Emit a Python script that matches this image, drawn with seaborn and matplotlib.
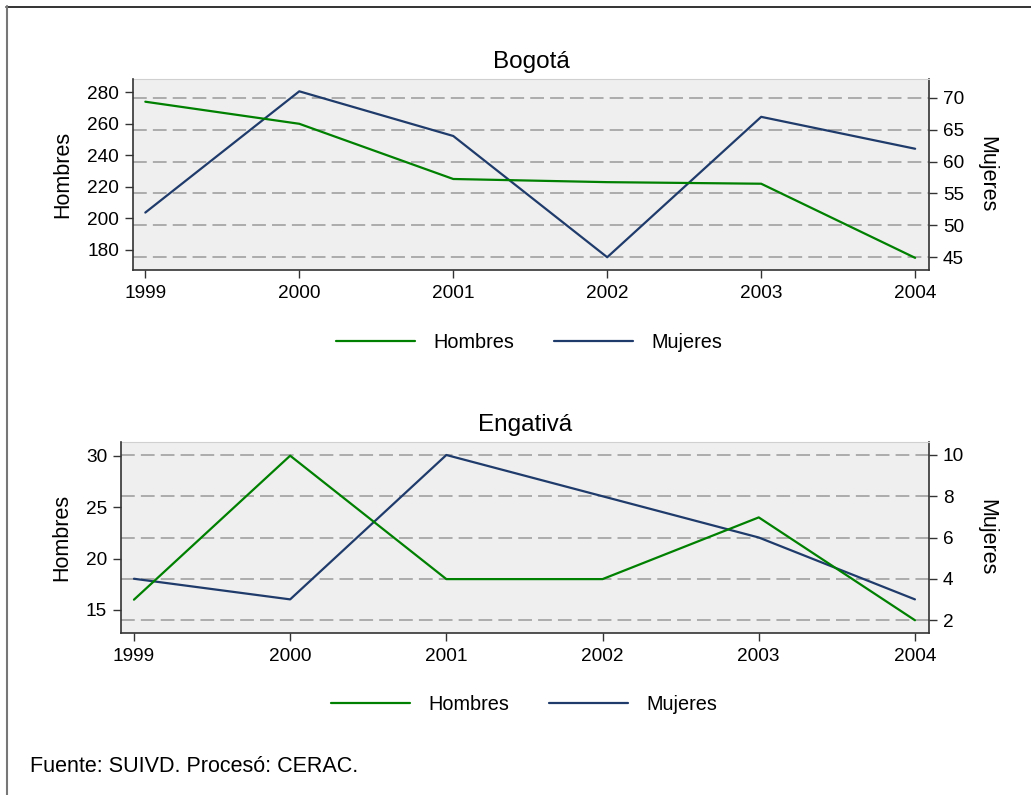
import matplotlib
matplotlib.use("Agg")
import matplotlib.pyplot as plt
import seaborn as sns
from matplotlib.lines import Line2D

sns.set_style("white")
plt.rcParams['font.family'] = ['Liberation Sans', 'DejaVu Sans']
plt.rcParams['text.color'] = 'black'
plt.rcParams['axes.labelcolor'] = 'black'
plt.rcParams['xtick.color'] = 'black'
plt.rcParams['ytick.color'] = 'black'

years = [1999, 2000, 2001, 2002, 2003, 2004]
bogota_hombres = [274, 260, 225, 223, 222, 175]
bogota_mujeres = [52, 71, 64, 45, 67, 62]
engativa_hombres = [16, 30, 18, 18, 24, 14]
engativa_mujeres = [4, 3, 10, 8, 6, 3]

bogota_left_ticks = [180, 200, 220, 240, 260, 280]
bogota_right_ticks = [45, 50, 55, 60, 65, 70]
engativa_left_ticks = [15, 20, 25, 30]
engativa_right_ticks = [2, 4, 6, 8, 10]

GREEN = "#008000"
NAVY = "#1F3B6B"
BG = "#EFEFEF"
W, H = 1031, 795

fig = plt.figure(figsize=(W / 100, H / 100), dpi=100)


def px(x0, y0, x1, y1):
    return [x0 / W, 1 - y1 / H, (x1 - x0) / W, (y1 - y0) / H]


def panel(rect, title, hom, muj, lticks, rticks, ylim1, ylim2, xlim, leg_y, leg_x):
    ax2 = fig.add_axes(rect)
    ax1 = ax2.twinx()
    ax1.yaxis.tick_left()
    ax1.yaxis.set_label_position("left")
    ax2.yaxis.tick_right()
    ax2.yaxis.set_label_position("right")
    ax2.set_zorder(0)
    ax1.set_zorder(1)
    ax1.patch.set_visible(False)
    ax2.set_facecolor(BG)

    sns.lineplot(x=years, y=muj, ax=ax2, color=NAVY, linewidth=1.6, legend=False)
    sns.lineplot(x=years, y=hom, ax=ax1, color=GREEN, linewidth=1.6, legend=False)

    ax1.set_ylim(*ylim1)
    ax2.set_ylim(*ylim2)
    ax1.set_xlim(*xlim)
    ax2.set_xlim(*xlim)
    ax1.set_yticks(lticks)
    ax2.set_yticks(rticks)
    ax2.set_xticks(years)
    ax2.set_xticklabels([str(y) for y in years])
    ax1.tick_params(axis="x", bottom=False, labelbottom=False)
    ax2.yaxis.grid(True, color="#999999", linestyle=(0, (9, 4)), linewidth=1.1)
    ax2.xaxis.grid(False)
    ax2.set_axisbelow(True)

    for a in (ax1, ax2):
        a.tick_params(axis="both", direction="out", length=6, width=1,
                      color="#333333", labelcolor="black", labelsize=13.7, pad=4)
        a.set_xlabel("")
    ax2.tick_params(axis="x", bottom=True, pad=5)
    ax1.tick_params(axis="y", left=True, right=False)
    ax2.tick_params(axis="y", right=True, left=False)

    ax1.set_ylabel("Hombres", fontsize=15.5, labelpad=10, color="black")
    ax2.set_ylabel("Mujeres", fontsize=15.5, rotation=270, labelpad=24, color="black")
    ax2.set_title(title, fontsize=17.5, pad=8, color="black")

    for a in (ax1, ax2):
        for s in a.spines.values():
            s.set_visible(False)
    ax1.spines["left"].set_visible(True)
    ax1.spines["left"].set_color("#333333")
    ax2.spines["bottom"].set_visible(True)
    ax2.spines["bottom"].set_color("#333333")
    ax2.spines["right"].set_visible(True)
    ax2.spines["right"].set_color("#333333")
    ax2.spines["top"].set_visible(True)
    ax2.spines["top"].set_color("#D0D0D0")
    for s in ("left", "bottom", "right"):
        for a in (ax1, ax2):
            a.spines[s].set_linewidth(1.2)

    handles = [Line2D([], [], color=GREEN, linewidth=1.6),
               Line2D([], [], color=NAVY, linewidth=1.6)]
    fig.legend(handles, ["Hombres", "Mujeres"], loc="center",
               bbox_to_anchor=(leg_x / W, 1 - leg_y / H), ncol=2, frameon=False,
               fontsize=14.3, handlelength=4.0, handletextpad=0.9, columnspacing=2.0,
               labelcolor="black")
    return ax1, ax2


panel(px(133, 79, 929, 270), "Bogotá", bogota_hombres, bogota_mujeres,
      bogota_left_ticks, bogota_right_ticks, (167.3, 288.4), (43.0, 72.93),
      (1998.92, 2004.09), 342, 529)
panel(px(121, 442, 929, 633), "Engativá", engativa_hombres, engativa_mujeres,
      engativa_left_ticks, engativa_right_ticks, (12.76, 31.33), (1.37, 10.63),
      (1998.917, 2004.09), 704, 524)

fig.text(30 / W, 1 - 767 / H, "Fuente: SUIVD. Procesó: CERAC.", fontsize=15.5,
         ha="left", va="center", color="black")

fig.add_artist(Line2D([6 / W, 1], [1 - 6.5 / H, 1 - 6.5 / H], color="#111111",
                      linewidth=1.2, transform=fig.transFigure))
fig.add_artist(Line2D([6.5 / W, 6.5 / W], [0, 1 - 6 / H], color="#777777",
                      linewidth=1.5, transform=fig.transFigure))

fig.savefig("out.png", dpi=100, facecolor="white")
